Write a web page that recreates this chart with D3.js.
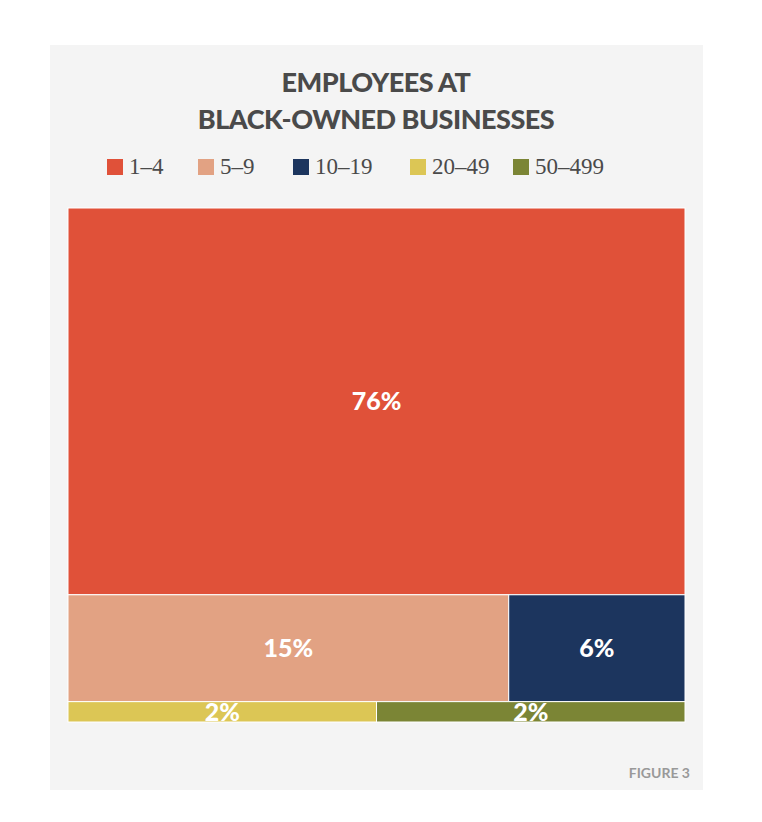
<!doctype html>
<html lang="en">
<head>
<meta charset="utf-8">
<script src="https://cdn.jsdelivr.net/npm/d3@7"></script>
<style>body{margin:0;background:#fff;}</style>
</head>
<body>
<script>
var categories = ["1-4", "5-9", "10-19", "20-49", "50-499"];
var shares     = [76, 15, 6, 2, 2];
var rowOf      = [0, 1, 1, 2, 2];
var colors     = ["#e05139", "#e2a283", "#1c355e", "#dcc655", "#7b8535"];

var svg = d3.select("body").append("svg").attr("width", 762).attr("height", 822);

svg.append("rect").attr("x", 50).attr("y", 45).attr("width", 653).attr("height", 745).attr("fill", "#f4f4f4");

svg.append("text").attr("x", 376).attr("y", 92).attr("text-anchor", "middle")
  .attr("font-family", "Lato").attr("font-weight", 900).attr("font-size", 27).attr("fill", "#4a4a4a")
  .attr("letter-spacing", -0.5).text("EMPLOYEES AT");
svg.append("text").attr("x", 376).attr("y", 129).attr("text-anchor", "middle")
  .attr("font-family", "Lato").attr("font-weight", 900).attr("font-size", 27).attr("fill", "#4a4a4a")
  .attr("letter-spacing", -0.5).text("BLACK-OWNED BUSINESSES");

// legend
var legendX = [107, 198, 293, 410, 513];
var leg = svg.selectAll(".leg").data(categories).enter().append("g")
  .attr("transform", function(d, i){ return "translate(" + legendX[i] + ",159)"; });
leg.append("rect").attr("width", 16).attr("height", 16).attr("fill", function(d, i){ return colors[i]; });
leg.append("text").attr("x", 22).attr("y", 15).attr("font-family", "Liberation Serif").attr("font-size", 23)
  .attr("fill", "#4a4a4a").text(function(d){ return d.replace("-", "–"); });

// treemap
var rows = [[], [], []];
categories.forEach(function(c, i){ rows[rowOf[i]].push({name: c, value: shares[i], color: colors[i]}); });
var root = d3.hierarchy({children: rows.map(function(r){ return {children: r}; })})
  .sum(function(d){ return d.value || 0; });
d3.treemap()
  .size([617, 514])
  .tile(function(node, x0, y0, x1, y1){
    (node.depth === 0 ? d3.treemapSlice : d3.treemapDice)(node, x0, y0, x1, y1);
  })(root);

var g = svg.append("g").attr("transform", "translate(68,208)");
var cell = g.selectAll(".cell").data(root.leaves()).enter().append("g");
cell.append("rect")
  .attr("x", function(d){ return d.x0; }).attr("y", function(d){ return d.y0; })
  .attr("width", function(d){ return d.x1 - d.x0; }).attr("height", function(d){ return d.y1 - d.y0; })
  .attr("fill", function(d){ return d.data.color; })
  .attr("stroke", "#fff").attr("stroke-width", 1);
cell.append("text")
  .attr("x", function(d){ return (d.x0 + d.x1) / 2; })
  .attr("y", function(d){ return (d.y0 + d.y1) / 2 + 9; })
  .attr("text-anchor", "middle").attr("font-family", "Lato").attr("font-weight", 900)
  .attr("font-size", 25).attr("fill", "#fff")
  .text(function(d){ return d.data.value + "%"; });

svg.append("text").attr("x", 690).attr("y", 778).attr("text-anchor", "end")
  .attr("font-family", "Lato").attr("font-weight", 700).attr("font-size", 14).attr("fill", "#999")
  .text("FIGURE 3");
</script>
</body>
</html>
